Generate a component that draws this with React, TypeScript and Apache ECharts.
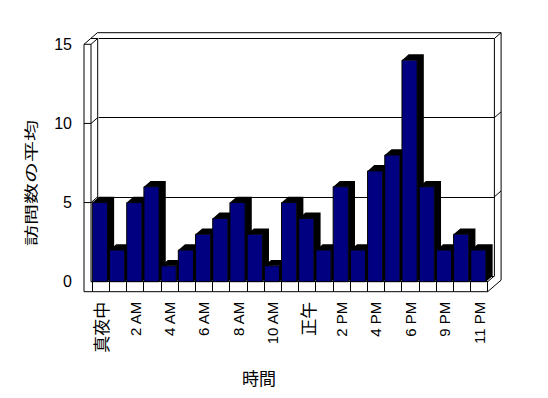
import React, { useEffect, useRef } from "react";
import * as echarts from "echarts";

const categories = [
  "真夜中", "1 AM", "2 AM", "3 AM", "4 AM", "5 AM", "6 AM", "7 AM", "8 AM", "9 AM", "10 AM", "11 AM",
  "正午", "1 PM", "2 PM", "3 PM", "4 PM", "5 PM", "6 PM", "7 PM", "9 PM", "10 PM", "11 PM",
];
const visits = [5, 2, 5, 6, 1, 2, 3, 4, 5, 3, 1, 5, 4, 2, 6, 2, 7, 8, 14, 6, 2, 3, 2];
const yTicks = [0, 5, 10, 15];
const yTitle = "訪問数の平均";
const xTitle = "時間";

// layout constants (pixels)
const FL = 84;
const FI = 91;
const G_LEFT = 92;
const FT = 44.3;
const FB = 281.7;
const FBB = 291.7;
const FR = 487.7;
const DX = 6.7;
const DY = -5.8;
const BL = FI + DX;
const BT = FT + DY;
const BR = FR + DX;
const BB = FB + DY;
const OR = BR + DX;
const OT = BT + DY;

const LATIN = "'Liberation Sans', Arial, sans-serif";
const CJK = "'Noto Sans CJK JP', sans-serif";

function ln(x1: number, y1: number, x2: number, y2: number, z = 0) {
  return {
    type: "line",
    z,
    silent: true,
    shape: { x1, y1, x2, y2 },
    style: { stroke: "#000", lineWidth: 1 },
  };
}

export default function App() {
  const ref = useRef<HTMLDivElement>(null);
  useEffect(() => {
    if (!ref.current) return;
    const chart = echarts.init(ref.current, null, { renderer: "svg" });
    const yMax = yTicks[yTicks.length - 1];
    const option: any = {
      animation: false,
      backgroundColor: "#fff",
      grid: [
        { left: G_LEFT, top: FT, width: FR - G_LEFT, height: FB - FT },
        { left: G_LEFT + DX, top: BT, width: FR - G_LEFT, height: FB - FT, z: -1 },
      ],
      xAxis: [
        {
          type: "category",
          gridIndex: 0,
          data: categories,
          boundaryGap: true,
          axisLine: { show: true, lineStyle: { color: "#000", width: 1 } },
          axisTick: { show: true, interval: 0, length: 10, lineStyle: { color: "#000" } },
          axisLabel: {
            interval: 1,
            rotate: 90,
            margin: 20,
            color: "#000",
            fontSize: 15,
            fontFamily: LATIN,
            formatter: (v: string) => (/[\u3000-\u9fff]/.test(v) ? `{c|${v}}` : v),
            rich: { c: { fontSize: 17, fontFamily: CJK, color: "#000" } },
          },
          splitLine: { show: false },
        },
        {
          type: "value",
          gridIndex: 1,
          min: 0,
          max: 1,
          show: false,
        },
      ],
      yAxis: [
        {
          type: "value",
          gridIndex: 0,
          min: 0,
          max: yMax,
          interval: 5,
          axisLine: { show: false },
          axisTick: { show: false },
          splitLine: { show: false },
          axisLabel: { margin: 20, color: "#000", fontSize: 16, fontFamily: LATIN },
        },
        {
          type: "value",
          gridIndex: 1,
          min: 0,
          max: yMax,
          interval: 5,
          axisLine: { show: false },
          axisTick: { show: false },
          axisLabel: { show: false },
          splitLine: { show: true, lineStyle: { color: "#000", width: 1 } },
        },
      ],
      graphic: [
        // back wall
        ln(BL, BT, BL, BB, -5),
        ln(BR, BT, BR, BB, -5),
        ln(BR, BT, OR, OT, -5),
        ln(FL + 2 * DX, OT, OR, OT, -5),
        ln(OR, OT, OR, FBB + 2 * DY, -5),
        ln(FR, FB, BR, BB, -5),
        ln(FR, FBB, OR, FBB + 2 * DY, -5),
        // left wall
        ln(FL, FT, FL, FBB, 10),
        ln(FI, FT, FI, FB, 10),
        ln(FL, FT, FI, FT, 10),
        ln(FL, FT, FL + DX, BT, 10),
        ln(FI, FT, BL, BT, 10),
        ln(FL + DX, BT, BL, BT, 10),
        ln(FL + DX, BT, FL + 2 * DX, OT, 10),
        // floor
        ln(FL, FBB, FR, FBB, 10),
        ln(FI, FB, G_LEFT, FB, 10),
        {
          type: "text",
          x: 30,
          y: 183,
          rotation: Math.PI / 2,
          scaleX: 1.5,
          style: {
            text: yTitle,
            fontSize: 14,
            fontFamily: CJK,
            fill: "#000",
            align: "center",
            verticalAlign: "middle",
          },
        },
        {
          type: "text",
          x: 259,
          y: 377,
          style: {
            text: xTitle,
            fontSize: 17,
            fontFamily: CJK,
            fill: "#000",
            align: "center",
            verticalAlign: "middle",
          },
        },
      ],
      series: [
        {
          type: "custom",
          xAxisIndex: 0,
          yAxisIndex: 0,
          z: 3,
          data: yTicks.filter((t) => t > 0 && t < yMax).map((t) => [0, t]),
          renderItem: (params: any, api: any) => {
            const p = api.coord([0, api.value(1)]);
            const y = p[1];
            const r = api.coord([categories.length - 1, api.value(1)]);
            const bw = api.size([1, 0])[0];
            const rx = r[0] + bw / 2 + DX;
            const yb = y + DY;
            const st = { stroke: "#000", lineWidth: 1, fill: null };
            return {
              type: "group",
              children: [
                { type: "line", shape: { x1: FL, y1: y, x2: FI, y2: y }, style: st },
                { type: "line", shape: { x1: FI, y1: y, x2: BL, y2: yb }, style: st },
                { type: "line", shape: { x1: rx, y1: yb, x2: rx + DX, y2: yb + DY }, style: st },
              ],
            };
          },
        },
        {
          type: "custom",
          xAxisIndex: 0,
          yAxisIndex: 0,
          z: 5,
          data: visits.map((v, i) => [i, v]),
          renderItem: (params: any, api: any) => {
            const idx = api.value(0);
            const v = api.value(1);
            const base = api.coord([idx, 0]);
            const top = api.coord([idx, v]);
            const bw = api.size([1, 0])[0];
            const x0 = base[0] - bw / 2 + 0.3;
            const x1 = x0 + bw * 0.88;
            const yb = base[1];
            const yt = top[1];
            return {
              type: "group",
              children: [
                {
                  type: "polygon",
                  shape: {
                    points: [
                      [x0, yt],
                      [x0 + DX, yt + DY],
                      [x1 + DX, yt + DY],
                      [x1 + DX, yb + DY],
                      [x1, yb],
                      [x1, yt],
                    ],
                  },
                  style: { fill: "#000" },
                },
                {
                  type: "rect",
                  shape: { x: x0, y: yt, width: x1 - x0, height: yb - yt },
                  style: { fill: "#000080", stroke: "#000", lineWidth: 1 },
                },
              ],
            };
          },
        },
      ],
    };
    chart.setOption(option);
    return () => chart.dispose();
  }, []);
  return (
    <div
      ref={ref}
      style={{ position: "fixed", left: 0, top: 0, width: 548, height: 398, background: "#fff" }}
    />
  );
}
